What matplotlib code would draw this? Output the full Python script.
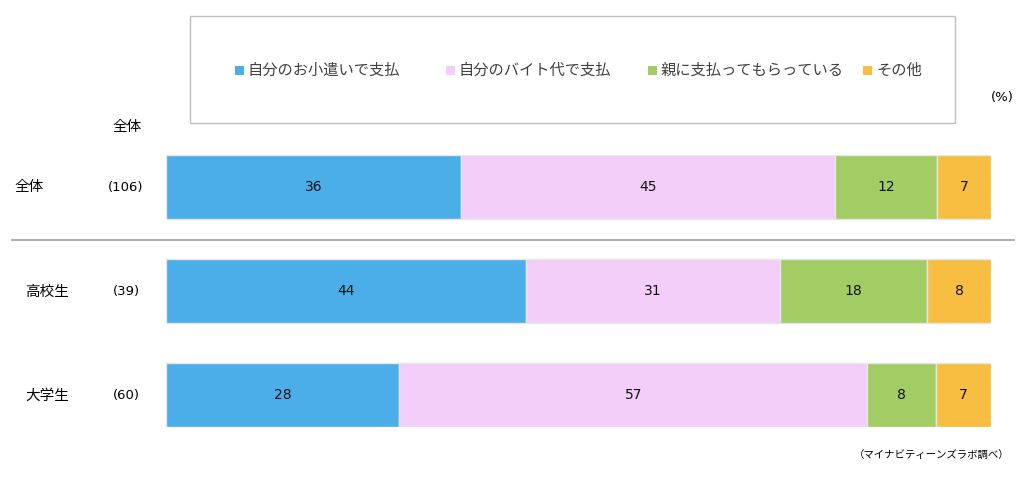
import matplotlib
matplotlib.use("Agg")
import matplotlib.pyplot as plt
from matplotlib.patches import Rectangle

plt.rcParams['font.family'] = ['DejaVu Sans', 'Noto Sans CJK JP']

groups = ["全体", "高校生", "大学生"]
counts = ["(106)", "(39)", "(60)"]
categories = ["自分のお小遣いで支払", "自分のバイト代で支払", "親に支払ってもらっている", "その他"]
colors = ["#4BAEE8", "#F2CEF8", "#A2CD65", "#F7BE41"]
# shares in percent (labels show rounded values)
values = [
    [35.8, 45.3, 12.3, 6.6],
    [43.6, 30.8, 17.9, 7.7],
    [28.3, 56.7, 8.3, 6.7],
]
labels = [
    [36, 45, 12, 7],
    [44, 31, 18, 8],
    [28, 57, 8, 7],
]

W, H = 1024, 478
fig = plt.figure(figsize=(W / 100, H / 100), dpi=100)

def px(x, y):
    return x / W, 1 - y / H

# bar axes: x 0..100 -> px 166..991, rows centred at 187/291/395
ax = fig.add_axes([166 / W, 1 - 427 / H, (991 - 166) / W, (427 - 155) / H])
ax.set_xlim(0, 100)
ax.set_ylim(2 + 32 / 104, -32 / 104)
ax.axis("off")

for i, row in enumerate(values):
    left = 0
    for j, v in enumerate(row):
        ax.barh(i, v, left=left, height=64 / 104, color=colors[j],
                edgecolor="#E6E6E6", linewidth=1)
        ax.text(left + v / 2, i, str(labels[i][j]), ha="center", va="center",
                fontsize=10, color="#111111")
        left += v

# row labels
row_y = [187, 291, 395]
for g, c, y in zip(groups, counts, row_y):
    fig.text(*px(14 if g == "全体" else 25, y), g, ha="left", va="center", fontsize=10.5)
    fig.text(*px(126, y), c, ha="center", va="center", fontsize=9.5)
fig.text(*px(127, 127), "全体", ha="center", va="center", fontsize=10.5)

# separator
fig.add_artist(plt.Line2D([12 / W, 1014 / W], [1 - 240 / H, 1 - 240 / H],
                          color="#A6A6A6", linewidth=1.3))

# legend box
fig.add_artist(Rectangle(px(190, 123), (955 - 190) / W, (123 - 16) / H,
                         transform=fig.transFigure, fill=False,
                         edgecolor="#BFBFBF", linewidth=1))
leg_x = [235, 446, 648, 863]
for x, cat, col in zip(leg_x, categories, colors):
    fig.add_artist(Rectangle(px(x, 75), 9 / W, 9 / H, transform=fig.transFigure,
                             facecolor=col, edgecolor="none"))
    fig.text(*px(x + 13, 70), cat, ha="left", va="center", fontsize=11,
             color="#404040")

fig.text(*px(1002, 98), "(%)", ha="center", va="center", fontsize=9.5)
fig.text(*px(1009, 455), "（マイナビティーンズラボ調べ）", ha="right", va="center",
         fontsize=7.5, family=['Noto Sans CJK JP'])

fig.savefig("out.png", dpi=100, facecolor="white")
